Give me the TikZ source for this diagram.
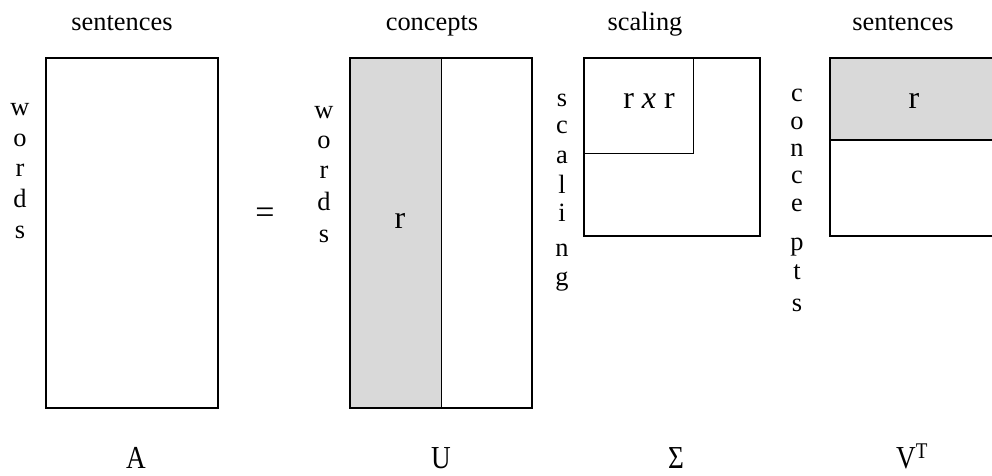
\documentclass[tikz,border=0pt]{standalone}
\usepackage{fontspec}
\setmainfont{Liberation Serif}
\definecolor{cellgray}{RGB}{217,217,217}
\begin{document}
\begin{tikzpicture}[x=1pt,y=-1pt,
  matbox/.style={draw=black,line width=1.6pt},
  thinline/.style={draw=black,line width=0.9pt},
  lbl/.style={font=\fontsize{26.4}{30}\selectfont,inner sep=0pt,anchor=base},
  rlbl/.style={font=\fontsize{32}{36}\selectfont,inner sep=0pt,anchor=base},
  biglbl/.style={font=\fontsize{32}{36}\selectfont,inner sep=0pt,anchor=base}]
\useasboundingbox (0,0) rectangle (992,475);
\clip (0,0) rectangle (992,475);
% top labels
\node[lbl] (tA) at (122,30) {sentences};
\node[lbl] (tU) at (432,30) {concepts};
\node[lbl] (tS) at (645,30) {scaling};
\node[lbl] (tV) at (903,30) {sentences};
% A
\draw[matbox] (46,58) rectangle (218,408);
\foreach \ch/\yy [count=\i] in {w/115,o/146,r/176,d/207,s/238}
  \node[lbl] (aw\i) at (20,\yy) {\ch};
% equals
\node[font=\fontsize{34}{38}\selectfont,inner sep=0pt] (eq) at (265,216) {=};
% U
\fill[cellgray] (350,58) rectangle (441,408);
\draw[thinline] (441,58) -- (441,408);
\draw[matbox] (350,58) rectangle (532,408);
\foreach \ch/\yy [count=\i] in {w/118,o/148,r/178,d/210,s/242}
  \node[lbl] (uw\i) at (324,\yy) {\ch};
\node[rlbl] (ur) at (400,228) {r};
% Sigma
\draw[thinline] (584,153) -- (693,153) -- (693,58);
\draw[matbox] (584,58) rectangle (760,236);
\foreach \ch/\yy [count=\i] in {s/106,c/133,a/163,l/193,i/221,n/256,g/285}
  \node[lbl] (sw\i) at (562,\yy) {\ch};
\node[rlbl] (srr) at (649,108) {r \textit{x} r};
% V^T
\fill[cellgray] (830,58) rectangle (1000,140);
\draw[matbox] (830,140) -- (1000,140);
\draw[matbox] (1000,58) -- (830,58) -- (830,236) -- (1000,236);
\foreach \ch/\yy [count=\i] in {c/101,o/129,n/156,c/183,e/211,p/250,t/279,s/311}
  \node[lbl] (vw\i) at (797,\yy) {\ch};
\node[rlbl] (vr) at (914,108) {r};
% bottom labels
\node[biglbl] (bA) at (136,468) {\scalebox{0.85}[1]{A}};
\node[biglbl] (bU) at (441,468) {\scalebox{0.85}[1]{U}};
\node[biglbl] (bS) at (676,468) {\scalebox{0.85}[1]{Σ}};
\node[biglbl] (bV) at (912,468) {\scalebox{0.85}[1]{V\textsuperscript{T}}};
\end{tikzpicture}
\end{document}
